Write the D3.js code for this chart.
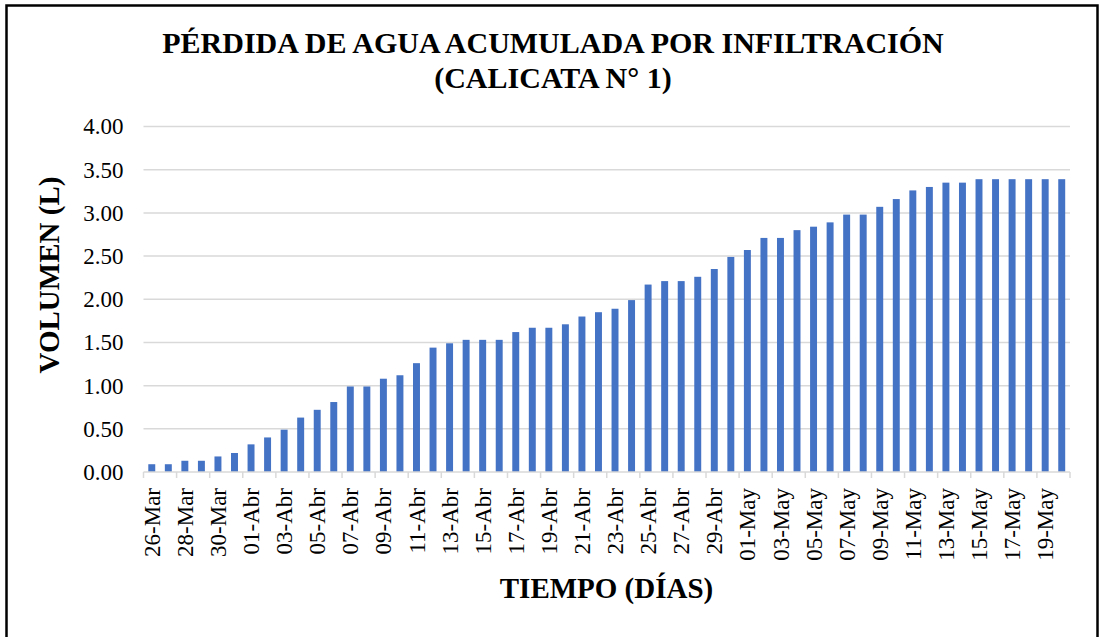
<!DOCTYPE html>
<html>
<head>
<meta charset="utf-8">
<script src="https://cdn.jsdelivr.net/npm/d3@7"></script>
<style>
  body { margin: 0; background: #fff; }
  text { font-family: "Liberation Serif", "Times New Roman", serif; fill: #000; }
</style>
</head>
<body>
<script>
// Data

var days = [
  "26-Mar", "27-Mar", "28-Mar", "29-Mar", "30-Mar", "31-Mar",
  "01-Abr", "02-Abr", "03-Abr", "04-Abr", "05-Abr", "06-Abr", "07-Abr", "08-Abr",
  "09-Abr", "10-Abr", "11-Abr", "12-Abr", "13-Abr", "14-Abr", "15-Abr", "16-Abr",
  "17-Abr", "18-Abr", "19-Abr", "20-Abr", "21-Abr", "22-Abr", "23-Abr", "24-Abr",
  "25-Abr", "26-Abr", "27-Abr", "28-Abr", "29-Abr", "30-Abr",
  "01-May", "02-May", "03-May", "04-May", "05-May", "06-May", "07-May", "08-May",
  "09-May", "10-May", "11-May", "12-May", "13-May", "14-May", "15-May", "16-May",
  "17-May", "18-May", "19-May", "20-May"
];

var volumen = [
  0.09, 0.09, 0.13, 0.13, 0.18, 0.22,
  0.32, 0.40, 0.49, 0.63, 0.72, 0.81, 0.99, 0.99,
  1.08, 1.12, 1.26, 1.44, 1.49, 1.53, 1.53, 1.53,
  1.62, 1.67, 1.67, 1.71, 1.80, 1.85, 1.89, 1.99,
  2.17, 2.21, 2.21, 2.26, 2.35, 2.49,
  2.57, 2.71, 2.71, 2.80, 2.84, 2.89, 2.98, 2.98,
  3.07, 3.16, 3.26, 3.30, 3.35, 3.35, 3.39, 3.39,
  3.39, 3.39, 3.39, 3.39
];

var yTicks = [0, 0.5, 1, 1.5, 2, 2.5, 3, 3.5, 4];

var titleLines = ["PÉRDIDA DE AGUA ACUMULADA POR INFILTRACIÓN", "(CALICATA N° 1)"];

/*
-----SVG-----
*/
var w = 1099;
var h = 637;
var plotLeft = 143.5, plotRight = 1070, plotTop = 126.5, plotBottom = 472;

var svg = d3.select("body")
  .append("svg")
  .attr("width", w)
  .attr("height", h);

// marco
svg.append("rect")
  .attr("x", 6.5)
  .attr("y", 5.5)
  .attr("width", 1091)
  .attr("height", 640)
  .attr("fill", "none")
  .attr("stroke", "#000")
  .attr("stroke-width", 2.5);

var x = d3.scaleBand()
  .domain(days)
  .range([plotLeft, plotRight])
  .paddingInner(0.58)
  .paddingOuter(0.29);

var y = d3.scaleLinear()
  .domain([0, 4])
  .range([plotBottom, plotTop]);

/*
----Grid + eje Y----
*/
svg.append("g")
  .attr("class", "grid")
  .selectAll("line")
  .data(yTicks.slice(1))
  .enter()
  .append("line")
  .attr("x1", plotLeft)
  .attr("x2", plotRight)
  .attr("y1", function(d) { return y(d); })
  .attr("y2", function(d) { return y(d); })
  .attr("stroke", "#d9d9d9")
  .attr("stroke-width", 1.5);

var yAxis = svg.append("g")
  .attr("transform", "translate(" + plotLeft + ",0)")
  .call(d3.axisLeft(y).tickValues(yTicks).tickFormat(d3.format(".2f")).tickSize(0).tickPadding(20));
yAxis.select(".domain").remove();
yAxis.selectAll("text")
  .style("font-family", "'Liberation Serif', serif")
  .style("font-size", "23px")
  .attr("fill", "#000");

/*
----Barras----
*/
svg.selectAll(".bar")
  .data(volumen)
  .enter()
  .append("rect")
  .attr("class", "bar")
  .attr("x", function(d, i) { return x(days[i]); })
  .attr("width", x.bandwidth())
  .attr("y", function(d) { return y(d); })
  .attr("height", function(d) { return y(0) - y(d); })
  .attr("fill", "#4472c4");

/*
----Eje X----
*/
svg.append("line")
  .attr("x1", plotLeft)
  .attr("x2", plotRight)
  .attr("y1", plotBottom)
  .attr("y2", plotBottom)
  .attr("stroke", "#d9d9d9")
  .attr("stroke-width", 1.5);

// marcas cada dos días
var step = x.step();
var tickPos = d3.range(0, days.length + 1, 2).map(function(i) {
  return plotLeft + i * step;
});
svg.selectAll(".xtick")
  .data(tickPos)
  .enter()
  .append("line")
  .attr("class", "xtick")
  .attr("x1", function(d) { return d; })
  .attr("x2", function(d) { return d; })
  .attr("y1", plotBottom)
  .attr("y2", plotBottom + 6)
  .attr("stroke", "#d9d9d9")
  .attr("stroke-width", 1.5);

var shown = days.filter(function(d, i) { return i % 2 === 0; });
svg.selectAll(".xlabel")
  .data(shown)
  .enter()
  .append("text")
  .attr("class", "xlabel")
  .attr("transform", function(d) {
    return "translate(" + (x(d) + x.bandwidth() / 2) + "," + (plotBottom + 16) + ") rotate(-90)";
  })
  .attr("dy", "0.35em")
  .attr("text-anchor", "end")
  .style("font-size", "23px")
  .text(function(d) { return d; });

/*
----Títulos----
*/
svg.selectAll(".title")
  .data(titleLines)
  .enter()
  .append("text")
  .attr("class", "title")
  .attr("x", 553)
  .attr("y", function(d, i) { return 53 + i * 35; })
  .attr("text-anchor", "middle")
  .style("font-size", "30px")
  .style("font-weight", "bold")
  .text(function(d) { return d; });

svg.append("text")
  .attr("transform", "translate(59,275) rotate(-90)")
  .attr("text-anchor", "middle")
  .style("font-size", "29px")
  .style("font-weight", "bold")
  .text("VOLUMEN (L)");

svg.append("text")
  .attr("x", 606.5)
  .attr("y", 598)
  .attr("text-anchor", "middle")
  .style("font-size", "29px")
  .style("font-weight", "bold")
  .text("TIEMPO (DÍAS)");
</script>
</body>
</html>
